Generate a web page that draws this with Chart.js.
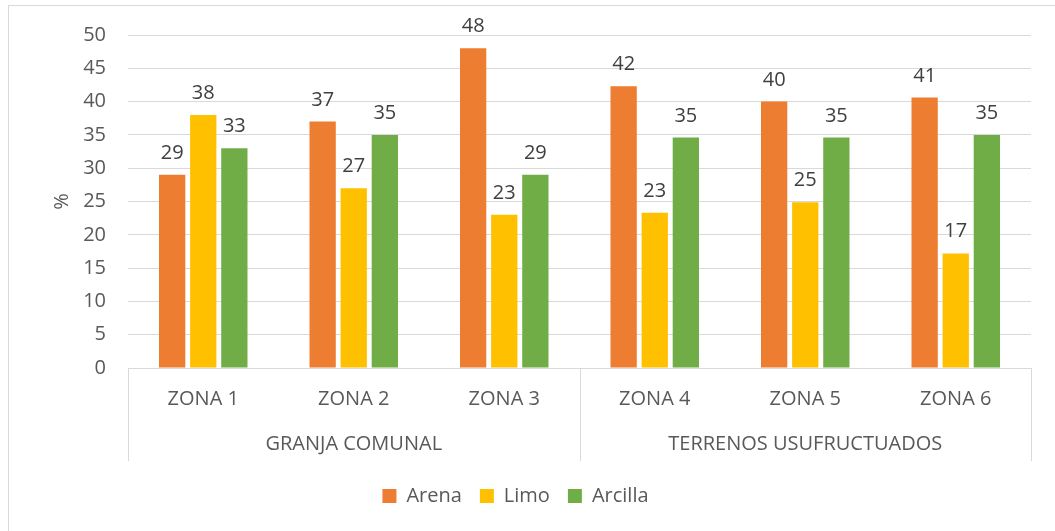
<!DOCTYPE html>
<html>
<head>
<meta charset="utf-8">
<script src="https://cdn.jsdelivr.net/npm/chart.js@4/dist/chart.umd.min.js"></script>
<style>
  html, body { margin: 0; padding: 0; background: #fff; }
  #wrap { position: relative; width: 1055px; height: 531px; }
  #frame { position: absolute; left: 8px; top: 5px; right: -2px; bottom: -2px; border-left: 1px solid #d9d9d9; border-top: 1px solid #d9d9d9; pointer-events: none; }
  canvas { display: block; }
</style>
</head>
<body>
<div id="wrap">
<canvas id="c" width="1055" height="531"></canvas>
<div id="frame"></div>
</div>
<script>
const categories = ["ZONA 1", "ZONA 2", "ZONA 3", "ZONA 4", "ZONA 5", "ZONA 6"];
const groups = ["GRANJA COMUNAL", "TERRENOS USUFRUCTUADOS"];
const groupSizes = [3, 3];
const arena = [29, 37, 48, 42.3, 40.0, 40.6];
const limo = [38, 27, 23, 23.3, 24.9, 17.2];
const arcilla = [33, 35, 29, 34.6, 34.6, 35.0];
const seriesNames = ["Arena", "Limo", "Arcilla"];
const seriesColors = ["#ED7D31", "#FFC000", "#70AD47"];
const yTicks = [0, 5, 10, 15, 20, 25, 30, 35, 40, 45, 50];

const FONT = "'Open Sans', 'Liberation Sans', sans-serif";
const TXT = "#595959";
const GRID = "#d9d9d9";

const labelPlugin = {
  id: "barLabels",
  afterDatasetsDraw(chart) {
    const ctx = chart.ctx;
    ctx.save();
    ctx.font = "20px " + FONT;
    ctx.fillStyle = "#404040";
    ctx.textAlign = "center";
    ctx.textBaseline = "alphabetic";
    chart.data.datasets.forEach((ds, i) => {
      const meta = chart.getDatasetMeta(i);
      meta.data.forEach((bar, j) => {
        ctx.fillText(String(Math.round(ds.data[j])), bar.x, bar.y - 16);
      });
    });
    ctx.restore();
  }
};

const groupPlugin = {
  id: "groupAxis",
  afterDraw(chart) {
    const ctx = chart.ctx;
    const area = chart.chartArea;
    const xs = chart.scales.x;
    const bottom = area.bottom;
    ctx.save();
    ctx.strokeStyle = GRID;
    ctx.lineWidth = 1;
    const seps = [area.left];
    let idx = 0;
    groupSizes.forEach((n) => {
      idx += n;
      if (idx < categories.length) {
        seps.push((xs.getPixelForValue(idx - 1) + xs.getPixelForValue(idx)) / 2);
      }
    });
    seps.push(area.right);
    seps.forEach((x) => {
      const px = Math.round(x) + 0.5;
      ctx.beginPath();
      ctx.moveTo(px, bottom);
      ctx.lineTo(px, bottom + 93);
      ctx.stroke();
    });
    ctx.font = "20px " + FONT;
    ctx.fillStyle = TXT;
    ctx.textAlign = "center";
    ctx.textBaseline = "middle";
    for (let g = 0; g < groups.length; g++) {
      const cx = (seps[g] + seps[g + 1]) / 2;
      ctx.fillText(groups[g], cx, bottom + 76);
    }
    ctx.restore();
  }
};

new Chart(document.getElementById("c"), {
  type: "bar",
  data: {
    labels: categories,
    datasets: [
      { label: seriesNames[0], data: arena, backgroundColor: seriesColors[0] },
      { label: seriesNames[1], data: limo, backgroundColor: seriesColors[1] },
      { label: seriesNames[2], data: arcilla, backgroundColor: seriesColors[2] }
    ]
  },
  options: {
    responsive: false,
    animation: false,
    devicePixelRatio: 1,
    layout: { padding: { left: 0, right: 24, top: 35, bottom: 15 } },
    datasets: { bar: { categoryPercentage: 0.62, barPercentage: 0.845 } },
    scales: {
      x: {
        grid: { display: false },
        border: { display: true, color: GRID },
        ticks: { color: TXT, font: { family: FONT, size: 20 }, padding: 11, maxRotation: 0 },
        afterFit(scale) { scale.height = 100; }
      },
      y: {
        min: 0, max: 50,
        afterBuildTicks(scale) { scale.ticks = yTicks.map(v => ({ value: v })); },
        grid: { color: GRID, lineWidth: 1, drawTicks: false },
        border: { display: false },
        ticks: { color: TXT, font: { family: FONT, size: 20 }, padding: 22 },
        title: { display: true, text: "%", color: TXT, font: { family: FONT, size: 20 }, padding: { top: 50, bottom: 0 } },
        afterFit(scale) { scale.width = 128; }
      }
    },
    plugins: {
      legend: {
        position: "bottom",
        labels: { color: TXT, font: { family: FONT, size: 20 }, boxWidth: 14, boxHeight: 14, padding: 18 }
      },
      tooltip: { enabled: false }
    }
  },
  plugins: [labelPlugin, groupPlugin]
});
</script>
</body>
</html>
